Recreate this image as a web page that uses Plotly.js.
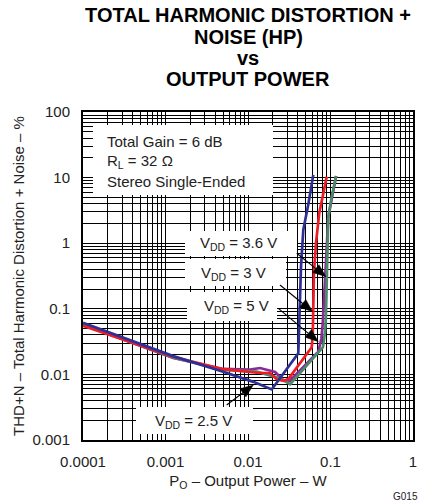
<!DOCTYPE html>
<html>
<head>
<meta charset="utf-8">
<script src="https://cdn.plot.ly/plotly-3.0.1.min.js"></script>
<style>html,body{margin:0;padding:0;background:#fff;}#chart{width:422px;height:502px;}</style>
</head>
<body>
<div id="chart"></div>
<script>
// ---- data ----
const xTickVals = [0.0001, 0.001, 0.01, 0.1, 1];
const xTickText = ['0.0001', '0.001', '0.01', '0.1', '1'];
const yTickVals = [0.001, 0.01, 0.1, 1, 10, 100];
const yTickText = ['0.001', '0.01', '0.1', '1', '10', '100'];

const seriesNames = ['V<sub>DD</sub> = 5 V', 'V<sub>DD</sub> = 3.6 V', 'V<sub>DD</sub> = 3 V', 'V<sub>DD</sub> = 2.5 V'];

const p5V   = [0.0001, 0.00124, 0.005, 0.0105, 0.014, 0.0213, 0.0266, 0.0322, 0.0712, 0.0775, 0.0805, 0.085, 0.088, 0.094, 0.104, 0.117];
const thd5V = [0.057, 0.0178, 0.0121, 0.0118, 0.0125, 0.0109, 0.0082, 0.0080, 0.0222, 0.035, 0.06, 0.19, 0.5, 2.5, 5.1, 10.6];

const p36V   = [0.0001, 0.00124, 0.005, 0.0128, 0.0245, 0.0324, 0.081, 0.086, 0.088, 0.09, 0.094, 0.1035, 0.117];
const thd36V = [0.058, 0.0181, 0.0117, 0.011, 0.0087, 0.0071, 0.026, 0.045, 0.076, 0.44, 2.5, 5.1, 10.6];

const p3V   = [0.0001, 0.00124, 0.005, 0.0128, 0.0185, 0.0223, 0.0269, 0.0308, 0.0592, 0.061, 0.063, 0.0667, 0.073, 0.090];
const thd3V = [0.055, 0.0186, 0.012, 0.0106, 0.0105, 0.0084, 0.0080, 0.0085, 0.026, 0.042, 0.35, 1.0, 2.86, 10.3];

const p25V   = [0.0001, 0.00124, 0.005, 0.0116, 0.0194, 0.0407, 0.0439, 0.0468, 0.054, 0.0618];
const thd25V = [0.061, 0.019, 0.011, 0.0077, 0.0059, 0.021, 0.44, 1.6, 4.0, 11];

const seriesColors = ['#8a2a96', '#4b8a68', '#f01c24', '#2b2f96'];

// ---- minor grid positions (2..9 per decade) ----
function minorVals(lo, hi) {
  const out = [];
  for (let e = lo; e < hi; e++) {
    for (let k = 2; k <= 9; k++) out.push(k * Math.pow(10, e));
  }
  return out;
}

const FONT = 'Liberation Sans, Arial, Helvetica, sans-serif';
const xs = [p5V, p36V, p3V, p25V];
const ys = [thd5V, thd36V, thd3V, thd25V];
const traces = xs.map((x, i) => ({
  x: x, y: ys[i], type: 'scatter', mode: 'lines', name: seriesNames[i],
  line: {color: seriesColors[i], width: 2.7}, hoverinfo: 'skip'
}));

// paper helpers (plot area: x 83..413, y 112..440)
const PX = v => (v - 83) / 330;
const PY = v => (440 - v) / 328;

function box(x0, y0, x1, y1) {
  return {type: 'rect', xref: 'paper', yref: 'paper', layer: 'above',
    x0: PX(x0), x1: PX(x1), y0: PY(y1), y1: PY(y0),
    fillcolor: '#ffffff', line: {width: 0}};
}
function arrowShapes(hx, hy, tx, ty) {
  const dx = hx - tx, dy = hy - ty, len = Math.hypot(dx, dy);
  const ux = dx / len, uy = dy / len, L = 13, W = 5;
  const bx = hx - ux * L, by = hy - uy * L, nx = -uy, ny = ux;
  return [
    {type: 'line', xref: 'paper', yref: 'paper', layer: 'above',
     x0: PX(tx), y0: PY(ty), x1: PX(bx), y1: PY(by), line: {color: '#000', width: 1.1}},
    {type: 'path', xref: 'paper', yref: 'paper', layer: 'above',
     path: 'M ' + PX(hx) + ',' + PY(hy) + ' L ' + PX(bx + nx * W) + ',' + PY(by + ny * W) +
           ' L ' + PX(bx - nx * W) + ',' + PY(by - ny * W) + ' Z',
     fillcolor: '#000', line: {color: '#000', width: 0.5}}
  ];
}
function label(text, x, y, anchor) {
  return {text: text, xref: 'paper', yref: 'paper', x: PX(x), y: PY(y),
    xanchor: anchor || 'center', yanchor: 'middle', showarrow: false,
    font: {family: FONT, size: 15, color: '#222'}};
}
function titleLine(text, y) {
  return {text: text, xref: 'paper', yref: 'paper', x: PX(248), y: PY(y),
    xanchor: 'center', yanchor: 'middle', showarrow: false,
    font: {family: FONT, size: 20, color: '#000'}};
}

const shapes = [
  box(93, 125, 273, 195),
  box(185, 231, 297, 256),
  box(185, 259, 286, 286),
  box(187, 292, 277, 321),
  box(136, 407, 253, 434)
].concat(
  arrowShapes(326, 276.7, 296.7, 253.3),
  arrowShapes(312.7, 311.7, 280, 285),
  arrowShapes(318.3, 341.7, 278.3, 308.3),
  arrowShapes(253.3, 385, 226.7, 405)
);

const layout = {
  width: 422, height: 502,
  margin: {l: 83, r: 9, t: 112, b: 62},
  paper_bgcolor: '#fff', plot_bgcolor: '#fff',
  showlegend: false,
  title: {text: '<b>TOTAL HARMONIC DISTORTION +</b>', x: 248 / 422, xanchor: 'center',
    y: 1 - 15 / 502, yanchor: 'middle', font: {family: FONT, size: 20, color: '#000'}},
  xaxis: {
    type: 'log', range: [-4, 0], tickmode: 'array', tickvals: xTickVals, ticktext: xTickText,
    showgrid: true, gridcolor: '#000', gridwidth: 1,
    minor: {tickmode: 'array', tickvals: minorVals(-4, 0), showgrid: true, gridcolor: '#000', gridwidth: 1, ticks: ''},
    showline: true, linecolor: '#000', linewidth: 2, mirror: true, zeroline: false, ticks: '',
    ticklabelstandoff: 7,
    tickfont: {family: FONT, size: 15, color: '#222'},
    title: {text: 'P<sub>O</sub> – Output Power – W', standoff: 6, font: {family: FONT, size: 15, color: '#222'}}
  },
  yaxis: {
    type: 'log', range: [-3, 2], tickmode: 'array', tickvals: yTickVals, ticktext: yTickText,
    showgrid: true, gridcolor: '#000', gridwidth: 1,
    minor: {tickmode: 'array', tickvals: minorVals(-3, 2), showgrid: true, gridcolor: '#000', gridwidth: 1, ticks: ''},
    showline: true, linecolor: '#000', linewidth: 2, mirror: true, zeroline: false, ticks: '',
    ticklabelstandoff: 8,
    tickfont: {family: FONT, size: 15, color: '#222'},
    title: {text: 'THD+N – Total Harmonic Distortion + Noise – %', standoff: 4, font: {family: FONT, size: 15, color: '#222'}}
  },
  shapes: shapes,
  annotations: [
    titleLine('<b>NOISE (HP)</b>', 37),
    titleLine('<b>vs</b>', 58),
    titleLine('<b>OUTPUT POWER</b>', 79),
    label('Total Gain = 6 dB', 105, 141.5, 'left'),
    label('R<sub>L</sub> = 32 Ω', 105, 161.5, 'left'),
    label('Stereo Single-Ended', 105, 181, 'left'),
    label(seriesNames[1], 238, 243),
    label(seriesNames[2], 233, 273),
    label(seriesNames[0], 236, 306),
    label(seriesNames[3], 193, 421),
    {text: 'G015', xref: 'paper', yref: 'paper', x: PX(420), y: PY(496), xanchor: 'right', yanchor: 'middle',
     showarrow: false, font: {family: FONT, size: 10, color: '#222'}}
  ]
};

Plotly.newPlot('chart', traces, layout, {staticPlot: true, displayModeBar: false});
</script>
</body>
</html>
